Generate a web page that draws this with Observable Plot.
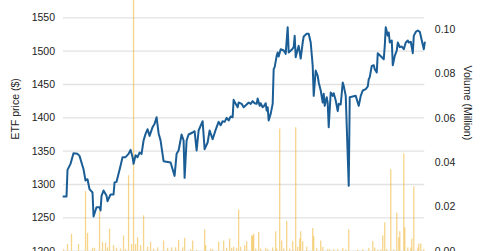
<!DOCTYPE html>
<html>
<head>
<meta charset="utf-8">
<script src="https://cdn.jsdelivr.net/npm/d3@7"></script>
<script src="https://cdn.jsdelivr.net/npm/@observablehq/plot@0.6"></script>
<style>
  html, body { margin: 0; padding: 0; background: #fff; overflow: hidden; }
  #chart svg { display: block; }
</style>
</head>
<body>
<div id="chart"></div>
<script>
// ETF price: calendar day index and closing price ($)
const priceDays = [0,3,4,7,10,14,16,20,22,24,26,29,30,33,36,37,38,40,43,44,47,50,51,53,55,57,59,62,65,67,69,70,72,74,76,78,80,82,84,86,89,91,93,95,97,100,107,111,113,115,118,120,121,123,125,129,131,133,135,139,141,144,146,149,152,155,157,159,161,163,165,167,169,170,172,174,175,178,180,183,185,187,189,191,193,194,196,197,199,200,202,203,204,205,207,209,210,211,213,214,215,217,220,222,224,225,228,230,231,232,234,235,237,239,240,243,245,247,249,250,252,254,255,257,259,260,261,263,264,265,267,269,270,272,274,275,277,279,280,282,285,286,289,292,295,297,299,302,304,305,306,308,310,311,313,314,316,318,320,321,322,324,325,326,328,329,331,333,334,336,338,340,342,344,345,347,349,350,352,354,356,358,360,361];
const prices = [1282,1282,1322,1331,1347,1346,1343,1323,1306,1308,1293,1288,1252,1266,1266,1261,1283,1291,1283,1275,1285,1285,1303,1304,1316,1328,1341,1341,1346,1352,1341,1331,1344,1341,1348,1346,1366,1376,1383,1373,1386,1391,1401,1377,1366,1335,1333,1313,1346,1351,1375,1366,1310,1366,1375,1378,1380,1351,1381,1395,1353,1363,1381,1368,1382,1394,1389,1395,1394,1400,1396,1402,1401,1427,1421,1416,1423,1421,1416,1420,1423,1421,1425,1422,1421,1429,1418,1422,1416,1417,1422,1411,1416,1396,1406,1421,1473,1476,1493,1498,1492,1503,1501,1496,1536,1498,1502,1506,1523,1491,1503,1508,1489,1513,1522,1526,1526,1513,1478,1433,1471,1463,1453,1441,1423,1436,1418,1431,1422,1386,1438,1433,1437,1426,1410,1421,1420,1453,1448,1433,1298,1431,1432,1433,1418,1433,1441,1443,1447,1458,1461,1478,1479,1473,1468,1497,1494,1491,1488,1508,1536,1523,1528,1513,1516,1479,1493,1501,1513,1506,1507,1503,1513,1516,1513,1514,1497,1523,1529,1531,1529,1516,1503,1513];

// Volume (million): calendar day index and volume
const volDays = [0,4,8,15,22,24,29,31,36,39,42,44,46,50,53,57,60,62,65,68,70,72,74,77,80,84,87,90,94,100,104,108,112,115,119,121,127,129,133,141,142,147,149,155,160,163,166,168,170,173,175,177,181,183,188,189,190,192,195,197,202,204,209,212,213,216,218,220,223,226,229,232,234,236,237,239,243,249,250,253,257,259,264,266,270,274,279,282,285,294,299,305,309,311,314,317,319,321,323,327,330,333,335,336,340,341,344,347,348,350,354,355,357,360];
const volumes = [0.0007,0.003,0.0076,0.003,0.0269,0.0081,0.0013,0.0013,0.0179,0.004,0.0036,0.0015,0.0099,0.0025,0.0013,0.001,0.0069,0.0007,0.0341,0.003,0.118,0.003,0.0061,0.0025,0.016,0.0018,0.004,0.001,0.0015,0.0046,0.0013,0.0015,0.0015,0.0049,0.0015,0.0058,0.0007,0.0046,0.0004,0.0096,0.0025,0.001,0.0007,0.004,0.0046,0.0013,0.0055,0.0013,0.0018,0.0013,0.0186,0.0018,0.0025,0.0043,0.007,0.0066,0.0076,0.001,0.0085,0.001,0.0013,0.0007,0.0015,0.0088,0.001,0.0552,0.0046,0.001,0.0134,0.001,0.0043,0.0558,0.0018,0.0055,0.0088,0.0043,0.0018,0.0103,0.0066,0.0013,0.0046,0.0018,0.0008,0.0007,0.0007,0.0007,0.0012,0.0005,0.0097,0.0005,0.0007,0.0012,0.0043,0.0015,0.0005,0.0005,0.0069,0.0128,0.0008,0.0368,0.0007,0.0171,0.0061,0.0088,0.0439,0.0106,0.0015,0.0015,0.0055,0.0291,0.0015,0.0033,0.0033,0.0008];

// Axis ticks
const priceTicks = [1200,1250,1300,1350,1400,1450,1500,1550];
const volTicks = [0.00,0.02,0.04,0.06,0.08,0.10];

const leftTitle = "ETF price ($)";
const rightTitle = "Volume (Million)";

// Volume is drawn against the price scale: 1 million = VOL_K dollars above the 1200 baseline
const PRICE_BASE = 1200;
const VOL_K = 3321;
const volToPrice = v => PRICE_BASE + v * VOL_K;

const priceData = priceDays.map((d, i) => ({day: d, price: prices[i]}));
const volData = volDays.map((d, i) => ({day: d, vol: volumes[i]}));

const font = "'Liberation Sans', Arial, sans-serif";

const chart = Plot.plot({
  width: 480,
  height: 270,
  marginLeft: 63,
  marginRight: 55.7,
  marginTop: 0,
  marginBottom: 19.3,
  style: {fontFamily: font, fontSize: "10.5px", color: "#222", background: "#fff", overflow: "hidden"},
  x: {domain: [0, 361], axis: null},
  y: {domain: [1200, 1576], axis: null},
  marks: [
    Plot.gridY(priceTicks, {stroke: "#e2e2e2", strokeOpacity: 1, strokeWidth: 1.3}),
    Plot.axisY(priceTicks, {anchor: "left", tickSize: 0, tickPadding: 8.5, label: null, fill: "#222", tickFormat: d => String(d)}),
    Plot.axisY(volTicks.map(volToPrice), {
      anchor: "right", tickSize: 0, tickPadding: 10, label: null, fill: "#222",
      tickFormat: d => ((d - PRICE_BASE) / VOL_K).toFixed(2)
    }),
    Plot.ruleX(volData, {
      x: "day", y1: PRICE_BASE, y2: d => volToPrice(d.vol),
      stroke: "#efb22a", strokeOpacity: 0.55, strokeWidth: 1.3
    }),
    Plot.line(priceData, {x: "day", y: "price", stroke: "#1b5e96", strokeWidth: 2, strokeLinejoin: "round"}),
    Plot.text([leftTitle], {
      frameAnchor: "left", text: d => d, rotate: -90, dx: -48, dy: -17,
      textAnchor: "middle", fill: "#222", fontSize: 10.5
    }),
    Plot.text([rightTitle], {
      frameAnchor: "right", text: d => d, rotate: 90, dx: 43, dy: -23,
      textAnchor: "middle", fill: "#222", fontSize: 10.5
    })
  ]
});
document.getElementById("chart").appendChild(chart);
</script>
</body>
</html>
